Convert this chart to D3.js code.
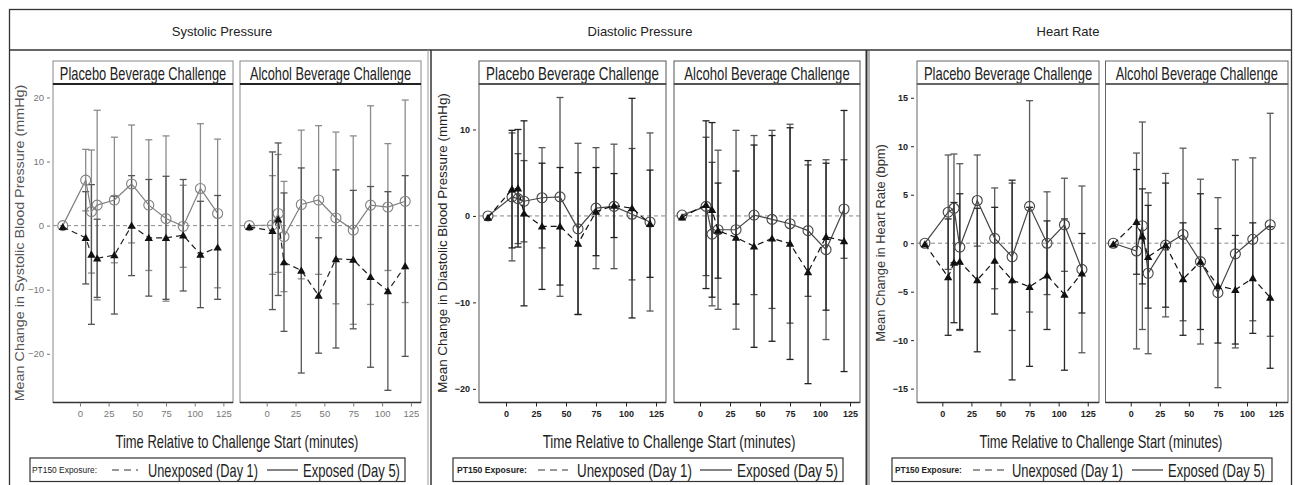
<!DOCTYPE html>
<html><head><meta charset="utf-8">
<script src="https://cdn.jsdelivr.net/npm/d3@7"></script>
<style>body{margin:0;background:#fff} svg{display:block} text{font-family:"Liberation Sans",Arial,sans-serif}</style>
</head><body><svg id="c" width="1295" height="485"></svg>
<script>
// ---------- data ----------
const times = [-15, 5, 10, 15, 30, 45, 60, 75, 90, 105, 120];
const measureTitles = ["Systolic Pressure", "Diastolic Pressure", "Heart Rate"];
const challengeTitles = ["Placebo Beverage Challenge", "Alcohol Beverage Challenge"];
const yAxisTitles = ["Mean Change in Systolic Blood Pressure (mmHg)",
                     "Mean Change in Diastolic Blood Pressure (mmHg)",
                     "Mean Change in Heart Rate (bpm)"];
const xAxisTitle = "Time Relative to Challenge Start (minutes)";
const legendTitle = "PT150 Exposure:";
const seriesNames = ["Unexposed (Day 1)", "Exposed (Day 5)"];
const xTickValues = [0, 25, 50, 75, 100, 125];
const sysYTicks = [-20, -10, 0, 10, 20];
const diaYTicks = [-20, -10, 0, 10];
const hrYTicks = [-15, -10, -5, 0, 5, 10, 15];

// Systolic – placebo
const sysPlaExpMean = [0, 7.1, 2.2, 3.2, 4.0, 6.5, 3.2, 1.1, -0.1, 5.8, 1.9];
const sysPlaExpSD   = [0, 4.8, 9.6, 14.8, 9.8, 9.2, 10.2, 12.9, 6.4, 10.1, 11.6];
const sysPlaUnMean  = [-0.2, -1.9, -4.5, -5.1, -4.6, 0, -1.9, -1.9, -1.5, -4.5, -3.4];
const sysPlaUnSD    = [0, 7.2, 10.9, 6.1, 9.2, 7.8, 9.1, 9.6, 8.7, 8.3, 8.1];
// Systolic – alcohol
const sysAlcExpMean = [0, 0.1, 1.9, -1.7, 3.3, 4.0, 1.2, -0.7, 3.2, 2.9, 3.8];
const sysAlcExpSD   = [0, 7.7, 9.2, 8.6, 11.6, 11.6, 13.4, 14.7, 15.5, 9.9, 15.8];
const sysAlcUnMean  = [-0.2, -0.8, 1.0, -5.7, -7.0, -10.9, -5.2, -5.3, -8.0, -10.2, -6.3];
const sysAlcUnSD    = [0, 12.3, 11.9, 10.8, 16.0, 9.0, 13.9, 10.8, 14.1, 15.5, 14.1];
// Diastolic – placebo
const diaPlaExpMean = [0, 2.2, 2.0, 1.7, 2.1, 2.2, -1.5, 0.9, 1.1, 0.2, -0.7];
const diaPlaExpSD   = [0, 7.4, 5.2, 4.7, 5.8, 11.5, 9.9, 7.0, 7.2, 7.6, 10.3];
const diaPlaUnMean  = [-0.2, 3.1, 3.2, 0.3, -1.2, -1.2, -3.2, 0.5, 1.2, 0.9, -0.9];
const diaPlaUnSD    = [0, 6.8, 6.8, 10.7, 7.3, 6.8, 8.2, 5.1, 3.7, 12.7, 6.2];
// Diastolic – alcohol
const diaAlcExpMean = [0.1, 1.1, -2.1, -1.6, -1.6, 0.1, -0.4, -0.9, -1.7, -3.9, 0.8];
const diaAlcExpSD   = [0, 8.0, 8.3, 9.2, 11.5, 9.2, 10.3, 11.5, 7.6, 10.4, 5.7];
const diaAlcUnMean  = [-0.15, 1.3, 0.7, -1.7, -2.5, -3.5, -2.6, -3.2, -6.5, -2.4, -2.9];
const diaAlcUnSD    = [0, 9.7, 10.1, 5.5, 7.7, 11.7, 11.9, 13.4, 12.9, 8.5, 15.1];
// Heart rate – placebo
const hrPlaExpMean = [0, 3.2, 3.6, -0.4, 4.4, 0.5, -1.4, 3.8, 0, 1.9, -2.7];
const hrPlaExpSD   = [0, 5.9, 5.6, 8.6, 4.7, 5.2, 7.6, 10.9, 5.3, 4.8, 8.6];
const hrPlaUnMean  = [-0.1, -3.5, -2.0, -1.9, -3.8, -1.8, -3.8, -4.5, -3.3, -5.3, -3.1];
const hrPlaUnSD    = [0, 6.0, 6.2, 7.0, 7.4, 5.5, 10.3, 8.2, 5.6, 7.8, 4.1];
// Heart rate – alcohol
const hrAlcExpMean = [0, -0.8, 1.8, -3.1, -0.2, 0.9, -1.9, -5.1, -1.1, 0.4, 1.9];
const hrAlcExpSD   = [0, 10.1, 10.7, 8.3, 7.4, 8.9, 8.5, 9.8, 9.7, 8.4, 11.5];
const hrAlcUnMean  = [-0.1, 2.2, 0.7, -1.4, -0.2, -3.7, -1.9, -4.4, -4.8, -3.6, -5.6];
const hrAlcUnSD    = [0, 5.4, 4.9, 5.3, 6.4, 5.8, 7.0, 5.9, 5.6, 5.7, 7.3];

// ---------- layout ----------
const PLOT_TOP = 84, PLOT_BOT = 402.5, STRIP_TOP = 61;
const panels = [
  { title: measureTitles[0], titleX: 222, yTitle: yAxisTitles[0], yTitleX: 24, yTitleLen: 317,
    yTicks: sysYTicks, yDomain: [-27.6, 22.1], xTitleX: 237, xTitleLen: 243,
    plots: [
      { x0: 53, x1: 233, xDomain: [-23.5, 133.4], exp: [sysPlaExpMean, sysPlaExpSD], un: [sysPlaUnMean, sysPlaUnSD] },
      { x0: 240, x1: 421, xDomain: [-23.1, 133.7], exp: [sysAlcExpMean, sysAlcExpSD], un: [sysAlcUnMean, sysAlcUnSD] } ],
    legend: { x0: 30, x1: 405, lab: [32, 65], dash: [112, 138], un: [148, 110], solid: [267, 298], ex: [303, 97] },
    st: { exp: "#808080", un: "#222", ebExp: "#8c8c8c", ebUn: "#555", tick: "#777", text: "#555", frame: "#888", top: "#222", tickBold: false } },
  { title: measureTitles[1], titleX: 640, yTitle: yAxisTitles[1], yTitleX: 447, yTitleLen: 300,
    yTicks: diaYTicks, yDomain: [-21.58, 15.26], xTitleX: 669, xTitleLen: 253,
    plots: [
      { x0: 479, x1: 666, xDomain: [-22.5, 133.3], exp: [diaPlaExpMean, diaPlaExpSD], un: [diaPlaUnMean, diaPlaUnSD] },
      { x0: 674, x1: 860, xDomain: [-21.7, 133.3], exp: [diaAlcExpMean, diaAlcExpSD], un: [diaAlcUnMean, diaAlcUnSD] } ],
    legend: { x0: 453, x1: 843, lab: [457, 70], dash: [538, 568], un: [577, 115], solid: [700, 732], ex: [737, 101] },
    st: { exp: "#444", un: "#111", ebExp: "#555", ebUn: "#222", tick: "#222", text: "#222", frame: "#555", top: "#555", tickBold: true } },
  { title: measureTitles[2], titleX: 1068, yTitle: yAxisTitles[2], yTitleX: 885, yTitleLen: 198,
    yTicks: hrYTicks, yDomain: [-16.43, 16.42], xTitleX: 1101, xTitleLen: 243,
    plots: [
      { x0: 917, x1: 1099, xDomain: [-21.8, 134.7], exp: [hrPlaExpMean, hrPlaExpSD], un: [hrPlaUnMean, hrPlaUnSD] },
      { x0: 1105.5, x1: 1288, xDomain: [-21.7, 135.3], exp: [hrAlcExpMean, hrAlcExpSD], un: [hrAlcUnMean, hrAlcUnSD] } ],
    legend: { x0: 892, x1: 1272, lab: [895, 67], dash: [973, 1005], un: [1012, 111], solid: [1132, 1163], ex: [1168, 97] },
    st: { exp: "#444", un: "#111", ebExp: "#5a5a5a", ebUn: "#2a2a2a", tick: "#222", text: "#333", frame: "#666", top: "#666", tickBold: true } }
];

const svg = d3.select("#c");

// place a text so that its rendered width equals `width` (horizontal squeeze like a narrow font)
function fitText(parent, str, x, y, width, size, anchor, rotate, attrs) {
  const t = parent.append("text").attr("font-size", size).attr("text-anchor", anchor).text(str);
  Object.entries(attrs || {}).forEach(([k, v]) => t.attr(k, v));
  const natural = t.node().getComputedTextLength();
  const s = width / natural;
  t.attr("transform", `translate(${x},${y})` + (rotate ? ` rotate(${rotate})` : "") + ` scale(${s},1)`);
  return t;
}

// outer frame & header
svg.append("rect").attr("x", 9.5).attr("y", 9.5).attr("width", 1282).attr("height", 480)
  .attr("fill", "none").attr("stroke", "#333").attr("stroke-width", 1.3);
svg.append("line").attr("x1", 9.5).attr("x2", 1291.5).attr("y1", 50).attr("y2", 50)
  .attr("stroke", "#333").attr("stroke-width", 1.3);
[[428, "#999", 1], [431, "#333", 1.5], [866.5, "#333", 2], [869, "#666", 1]].forEach(([x, c, w]) =>
  svg.append("line").attr("x1", x).attr("x2", x).attr("y1", 50).attr("y2", 485).attr("stroke", c).attr("stroke-width", w));

panels.forEach(p => {
  const st = p.st;
  const y = d3.scaleLinear().domain(p.yDomain).range([PLOT_BOT, PLOT_TOP]);
  svg.append("text").attr("x", p.titleX).attr("y", 36).attr("text-anchor", "middle")
    .attr("font-size", 13).attr("fill", "#222").text(p.title);

  // y title
  fitText(svg, p.yTitle, p.yTitleX, 243, p.yTitleLen, 12.5, "middle", -90, { fill: st.text });

  // y axis
  const ya = svg.append("g").attr("transform", `translate(${p.plots[0].x0 - 3},0)`)
    .call(d3.axisLeft(y).tickValues(p.yTicks).tickSize(3).tickPadding(3).tickFormat(d3.format("d")));
  ya.select(".domain").remove();
  ya.selectAll("line").attr("stroke", st.tick);
  ya.selectAll("text").attr("fill", st.tick).attr("font-size", st.tickBold ? 9 : 9.5)
    .attr("font-weight", st.tickBold ? "bold" : "normal").attr("font-family", "Liberation Sans");

  p.plots.forEach((pl, i) => {
    const x = d3.scaleLinear().domain(pl.xDomain).range([pl.x0, pl.x1]);
    const w = pl.x1 - pl.x0;
    // strip
    svg.append("rect").attr("x", pl.x0).attr("y", STRIP_TOP).attr("width", w).attr("height", PLOT_TOP - STRIP_TOP)
      .attr("fill", "#fff").attr("stroke", st.frame).attr("stroke-width", 1);
    fitText(svg, challengeTitles[i], (pl.x0 + pl.x1) / 2, 79.5, i === 0 ? w * 0.925 : w * 0.89, 18, "middle", 0, { fill: "#222" });
    // frame
    svg.append("rect").attr("x", pl.x0).attr("y", PLOT_TOP).attr("width", w).attr("height", PLOT_BOT - PLOT_TOP)
      .attr("fill", "none").attr("stroke", st.frame).attr("stroke-width", 1);
    svg.append("line").attr("x1", pl.x0).attr("x2", pl.x1).attr("y1", PLOT_TOP).attr("y2", PLOT_TOP)
      .attr("stroke", st.top).attr("stroke-width", 1.8);
    svg.append("line").attr("x1", pl.x0).attr("x2", pl.x1).attr("y1", PLOT_BOT).attr("y2", PLOT_BOT)
      .attr("stroke", "#333").attr("stroke-width", 1.6);
    // zero reference
    svg.append("line").attr("x1", pl.x0).attr("x2", pl.x1).attr("y1", y(0)).attr("y2", y(0))
      .attr("stroke", "#888").attr("stroke-width", 1).attr("stroke-dasharray", "4,3");

    // x axis
    const xa = svg.append("g").attr("transform", `translate(0,${PLOT_BOT})`)
      .call(d3.axisBottom(x).tickValues(xTickValues).tickSize(4).tickPadding(4));
    xa.select(".domain").remove();
    xa.selectAll("line").attr("stroke", st.tick);
    xa.selectAll("text").attr("fill", st.tick).attr("font-size", st.tickBold ? 9 : 9.5)
      .attr("font-weight", st.tickBold ? "bold" : "normal").attr("font-family", "Liberation Sans");

    const groups = [
      { m: pl.exp[0], sd: pl.exp[1], eb: st.ebExp, col: st.exp, dash: null, mark: "circle" },
      { m: pl.un[0], sd: pl.un[1], eb: st.ebUn, col: st.un, dash: "6,4", mark: "tri" }
    ];
    // error bars
    groups.forEach(g => {
      const rows = times.map((t, k) => ({ t, m: g.m[k], sd: g.sd[k] })).filter(d => d.sd > 0);
      const eg = svg.append("g").attr("stroke", g.eb).attr("stroke-width", 1.3);
      eg.selectAll(".v").data(rows).join("line")
        .attr("x1", d => x(d.t)).attr("x2", d => x(d.t))
        .attr("y1", d => y(d.m - d.sd)).attr("y2", d => y(d.m + d.sd));
      eg.selectAll(".ct").data(rows).join("line")
        .attr("x1", d => x(d.t) - 3.5).attr("x2", d => x(d.t) + 3.5)
        .attr("y1", d => y(d.m + d.sd)).attr("y2", d => y(d.m + d.sd));
      eg.selectAll(".cb").data(rows).join("line")
        .attr("x1", d => x(d.t) - 3.5).attr("x2", d => x(d.t) + 3.5)
        .attr("y1", d => y(d.m - d.sd)).attr("y2", d => y(d.m - d.sd));
    });
    // lines & markers
    groups.forEach(g => {
      const line = d3.line().x((d, k) => x(times[k])).y(d => y(d));
      svg.append("path").datum(g.m).attr("d", line).attr("fill", "none")
        .attr("stroke", g.col).attr("stroke-width", 1.2)
        .attr("stroke-dasharray", g.dash);
      if (g.mark === "circle") {
        svg.append("g").selectAll("circle").data(g.m).join("circle")
          .attr("cx", (d, k) => x(times[k])).attr("cy", d => y(d)).attr("r", 5)
          .attr("fill", "none").attr("stroke", g.col).attr("stroke-width", 1.1);
      } else {
        svg.append("g").selectAll("path").data(g.m).join("path")
          .attr("transform", (d, k) => `translate(${x(times[k])},${y(d) + 0.8})`)
          .attr("d", d3.symbol(d3.symbolTriangle, 30)).attr("fill", "#111");
      }
    });
  });

  // x title
  fitText(svg, xAxisTitle, p.xTitleX, 448, p.xTitleLen, 18, "middle", 0, { fill: "#222" });

  // legend
  const L = p.legend;
  svg.append("rect").attr("x", L.x0).attr("y", 458).attr("width", L.x1 - L.x0).attr("height", 23.5)
    .attr("fill", "#fff").attr("stroke", "#333").attr("stroke-width", 1.2);
  fitText(svg, legendTitle, L.lab[0], 473, L.lab[1], 9.5, "start", 0,
    { fill: "#222", "font-weight": st.tickBold ? "bold" : "normal" });
  svg.append("line").attr("x1", L.dash[0]).attr("x2", L.dash[1]).attr("y1", 470).attr("y2", 470)
    .attr("stroke", "#333").attr("stroke-width", 1.2).attr("stroke-dasharray", "7,5");
  fitText(svg, seriesNames[0], L.un[0], 476.5, L.un[1], 18, "start", 0, { fill: "#222" });
  svg.append("line").attr("x1", L.solid[0]).attr("x2", L.solid[1]).attr("y1", 470).attr("y2", 470)
    .attr("stroke", "#333").attr("stroke-width", 1.2);
  fitText(svg, seriesNames[1], L.ex[0], 476.5, L.ex[1], 18, "start", 0, { fill: "#222" });
});
</script></body></html>
